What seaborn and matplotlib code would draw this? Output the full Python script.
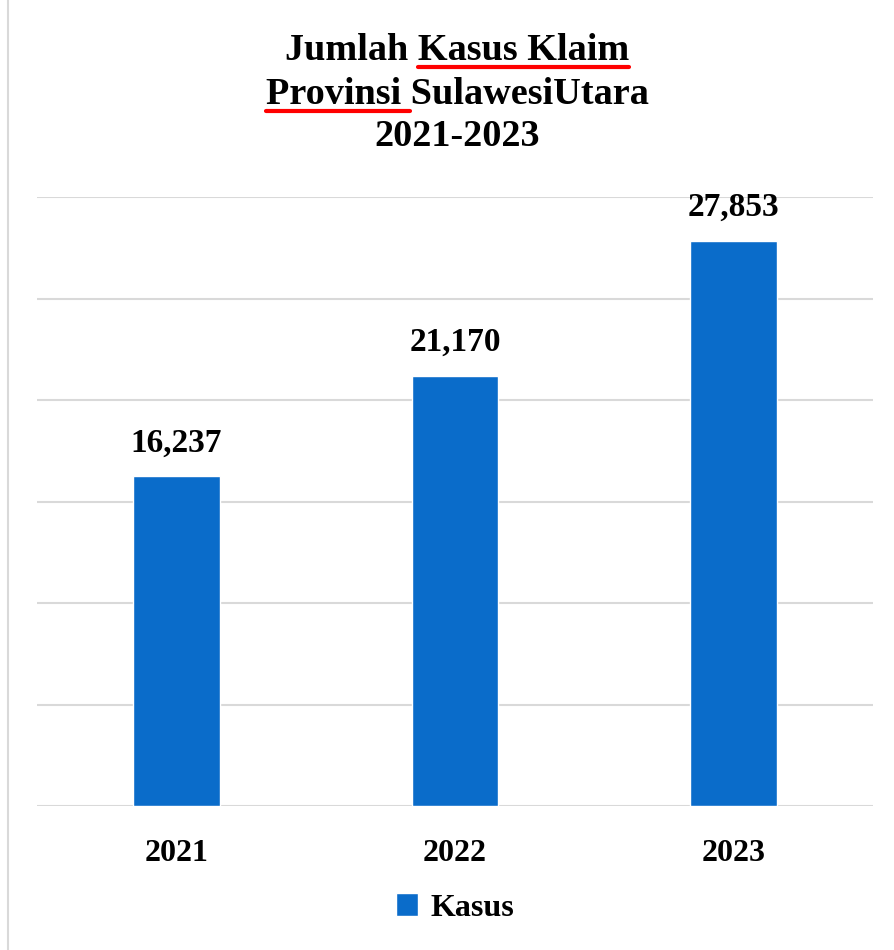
import matplotlib
matplotlib.use("Agg")
import matplotlib.pyplot as plt
from matplotlib.lines import Line2D
import pandas as pd
import seaborn as sns

years = ["2021", "2022", "2023"]
kasus = [16237, 21170, 27853]
series_name = "Kasus"
title_lines = ["Jumlah Kasus Klaim", "Provinsi SulawesiUtara", "2021-2023"]

bar_color = "#0A6CCA"
grid_color = "#D9D9D9"

sns.set_style("white")
plt.rcParams["font.family"] = ["Liberation Serif", "DejaVu Serif"]
plt.rcParams["font.weight"] = "bold"
plt.rcParams["text.color"] = "black"
plt.rcParams["xtick.color"] = "black"

df = pd.DataFrame({"year": years, "kasus": kasus})

fig = plt.figure(figsize=(8.94, 9.5), dpi=100)
ax = fig.add_axes([37 / 894, 1 - 806 / 950, 836 / 894, (806 - 197) / 950])

sns.barplot(data=df, x="year", y="kasus", color=bar_color, width=0.312,
            saturation=1, label=series_name, ax=ax, zorder=3)

ax.set_ylim(0, 30000)
ax.set_yticks(range(0, 30001, 5000))
ax.yaxis.grid(True, color=grid_color, linewidth=1.5, zorder=0)
ax.set_axisbelow(True)
ax.tick_params(axis="y", left=False, labelleft=False)
ax.tick_params(axis="x", bottom=False, pad=20, labelsize=23, labelcolor="black")
for lab in ax.get_xticklabels():
    lab.set_fontweight("bold")
ax.set_xlabel("")
ax.set_ylabel("")
for s in ax.spines.values():
    s.set_visible(False)

ax.bar_label(ax.containers[0], labels=[f"{v:,}" for v in kasus], padding=13,
             fontsize=24, fontweight="bold", color="black")

if ax.get_legend() is not None:
    ax.get_legend().remove()
handles, labels = ax.get_legend_handles_labels()
fig.legend(handles, labels, loc="center", bbox_to_anchor=(455 / 894, 1 - 908 / 950),
           frameon=False, handlelength=0.7, handleheight=0.7,
           handletextpad=0.4, prop={"weight": "bold", "size": 23})

# title, three centered lines
cx = 457 / 894
ys = [50, 94, 137]
tsize = 27.5
texts = []
for line, y in zip(title_lines, ys):
    t = fig.text(cx, 1 - y / 950, line, ha="center", va="center",
                 fontsize=tsize, fontweight="bold", color="black")
    texts.append(t)

fig.canvas.draw()
renderer = fig.canvas.get_renderer()


def text_width(s):
    tmp = fig.text(0, 0, s, fontsize=tsize, fontweight="bold")
    w = tmp.get_window_extent(renderer).width
    tmp.remove()
    return w


def underline(tobj, prefix, word, ypix):
    bb = tobj.get_window_extent(renderer)
    x0 = bb.x0 + text_width(prefix)
    x1 = x0 + text_width(word)
    yf = 1 - ypix / 950
    fig.add_artist(Line2D([x0 / fig.bbox.width, x1 / fig.bbox.width], [yf, yf],
                          transform=fig.transFigure, color="#FF0000", linewidth=3))


underline(texts[0], "Jumlah ", "Kasus Klaim", 67)
underline(texts[1], "", "Provinsi ", 111)

# left border of the image frame
fig.add_artist(Line2D([8 / 894, 8 / 894], [0, 1], transform=fig.transFigure,
                      color="#D9D9D9", linewidth=1.5))

fig.savefig("out.png", dpi=100)
